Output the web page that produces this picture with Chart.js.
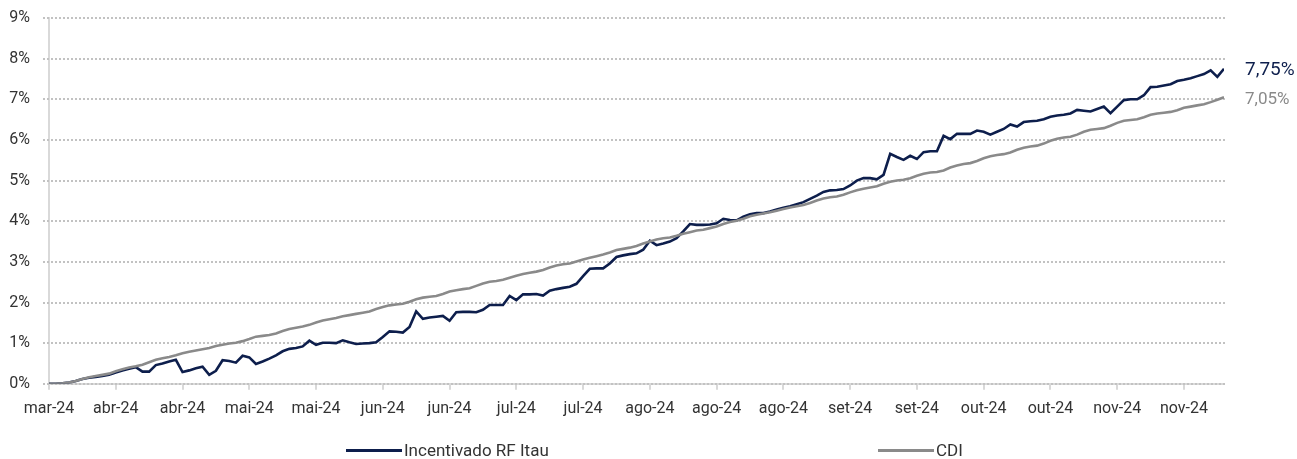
<!DOCTYPE html>
<html>
<head>
<meta charset="utf-8">
<script src="https://cdn.jsdelivr.net/npm/chart.js@4.4.1/dist/chart.umd.min.js"></script>
<style>
  html, body { margin: 0; padding: 0; background: #ffffff; }
  #wrap { position: relative; width: 1297px; height: 459px; }
  #legend { position: absolute; left: 0; top: 440px; width: 1297px; height: 20px; font-family: Roboto, sans-serif; font-size: 17px; color: #333333; }
  .lg-item { position: absolute; top: 0; display: flex; align-items: center; height: 20px; white-space: nowrap; }
  .lg-line { width: 56px; height: 3px; margin-right: 2px; }
</style>
</head>
<body>
<div id="wrap">
  <canvas id="c" width="1297" height="459"></canvas>
  <div id="legend"></div>
</div>
<script>
// ---- data ----
const tickLabels = ['mar-24','abr-24','abr-24','mai-24','mai-24','jun-24','jun-24','jul-24','jul-24',
  'ago-24','ago-24','ago-24','set-24','set-24','out-24','out-24','nov-24','nov-24'];
const labelEvery = 10; // business days between axis labels

const seriesNames = ['Incentivado RF Itau', 'CDI'];

const incentivado = [
  0.00,0.00,0.01,0.03,0.07,0.12,0.15,0.17,0.19,0.22,
  0.28,0.33,0.37,0.41,0.30,0.30,0.46,0.50,0.55,0.59,
  0.29,0.33,0.38,0.42,0.22,0.32,0.58,0.56,0.52,0.69,
  0.65,0.49,0.55,0.62,0.70,0.80,0.86,0.88,0.92,1.06,
  0.96,1.01,1.01,1.00,1.07,1.02,0.98,0.99,1.00,1.02,
  1.15,1.29,1.28,1.26,1.40,1.78,1.60,1.63,1.65,1.67,
  1.55,1.76,1.77,1.77,1.76,1.82,1.94,1.94,1.94,2.16,
  2.06,2.20,2.20,2.21,2.17,2.29,2.33,2.36,2.39,2.46,
  2.65,2.83,2.84,2.84,2.96,3.12,3.16,3.19,3.21,3.30,
  3.52,3.41,3.45,3.50,3.58,3.75,3.93,3.91,3.91,3.92,
  3.95,4.06,4.03,4.02,4.11,4.17,4.20,4.20,4.24,4.29,
  4.33,4.37,4.42,4.47,4.55,4.63,4.72,4.76,4.77,4.79,
  4.88,5.00,5.06,5.06,5.03,5.14,5.66,5.58,5.51,5.61,
  5.53,5.70,5.72,5.72,6.10,6.02,6.15,6.15,6.15,6.23,
  6.20,6.13,6.20,6.27,6.38,6.33,6.44,6.46,6.47,6.51,
  6.57,6.60,6.62,6.65,6.74,6.72,6.70,6.76,6.82,6.66,
  6.82,6.98,7.00,7.00,7.10,7.30,7.31,7.34,7.37,7.45,
  7.48,7.52,7.57,7.62,7.71,7.55,7.75
];

const cdi = [
  0.00,0.00,0.01,0.03,0.07,0.12,0.16,0.19,0.22,0.25,
  0.31,0.36,0.40,0.43,0.47,0.53,0.59,0.63,0.66,0.70,
  0.75,0.79,0.82,0.85,0.88,0.93,0.96,0.99,1.01,1.05,
  1.10,1.16,1.18,1.20,1.24,1.30,1.35,1.38,1.41,1.45,
  1.51,1.56,1.59,1.62,1.66,1.69,1.72,1.75,1.78,1.84,
  1.89,1.93,1.95,1.97,2.02,2.08,2.12,2.14,2.16,2.21,
  2.27,2.30,2.33,2.35,2.41,2.47,2.51,2.53,2.56,2.61,
  2.66,2.70,2.73,2.76,2.80,2.86,2.91,2.94,2.96,3.01,
  3.06,3.10,3.14,3.18,3.23,3.29,3.32,3.35,3.39,3.45,
  3.50,3.55,3.58,3.60,3.64,3.69,3.73,3.77,3.79,3.83,
  3.87,3.93,3.98,4.01,4.06,4.12,4.16,4.19,4.22,4.26,
  4.30,4.34,4.37,4.40,4.45,4.51,4.56,4.59,4.61,4.65,
  4.71,4.76,4.80,4.83,4.86,4.92,4.97,5.00,5.02,5.06,
  5.12,5.17,5.20,5.21,5.25,5.32,5.37,5.41,5.43,5.48,
  5.55,5.60,5.63,5.65,5.69,5.76,5.81,5.84,5.86,5.91,
  5.98,6.03,6.06,6.08,6.13,6.20,6.25,6.27,6.29,6.35,
  6.42,6.47,6.49,6.51,6.56,6.62,6.65,6.67,6.69,6.73,
  6.79,6.82,6.85,6.88,6.93,6.99,7.05
];

const yTicks = [0,1,2,3,4,5,6,7,8,9];

// ---- chart ----
const NAVY = '#0d1e4c';
const GREY = '#8a8a8a';
const GRID = '#c2c2c2';
const toPts = arr => arr.map((v, i) => ({ x: i, y: v }));

Chart.defaults.font.family = 'Roboto, sans-serif';

// dotted horizontal guide lines (crisp 2px dots) behind the series, one per y tick of the library's scale
const dottedGrid = {
  id: 'dottedGrid',
  beforeDatasetsDraw(chart) {
    const { ctx, chartArea, scales: { y } } = chart;
    ctx.save();
    ctx.fillStyle = GRID;
    const x0 = Math.round(chartArea.left) - 6;
    const x1 = Math.round(chartArea.right);
    y.ticks.forEach(t => {
      const py = Math.round(y.getPixelForValue(t.value));
      for (let x = x0; x < x1; x += 4) {
        ctx.fillRect(x, py - 1, 2, 2);
      }
    });
    ctx.restore();
  }
};

const endLabels = {
  id: 'endLabels',
  afterDatasetsDraw(chart) {
    const ctx = chart.ctx;
    chart.data.datasets.forEach((ds, di) => {
      const meta = chart.getDatasetMeta(di);
      const pt = meta.data[meta.data.length - 1];
      const v = ds.data[ds.data.length - 1].y;
      ctx.save();
      ctx.font = ds.endFont;
      ctx.fillStyle = ds.borderColor;
      ctx.textAlign = 'left';
      ctx.textBaseline = 'middle';
      ctx.fillText(v.toFixed(2).replace('.', ',') + '%', pt.x + 21, pt.y + ds.endDy);
      ctx.restore();
    });
  }
};

const chart = new Chart(document.getElementById('c'), {
  type: 'line',
  data: {
    datasets: [
      { label: seriesNames[0], data: toPts(incentivado), borderColor: NAVY, backgroundColor: NAVY,
        borderWidth: 2.6, pointRadius: 0, tension: 0, order: 1, endFont: '19px Roboto, sans-serif', endDy: 1.5 },
      { label: seriesNames[1], data: toPts(cdi), borderColor: GREY, backgroundColor: GREY,
        borderWidth: 2.6, pointRadius: 0, tension: 0, order: 0, endFont: '17px Roboto, sans-serif', endDy: 2 }
    ]
  },
  options: {
    responsive: false,
    animation: false,
    layout: { padding: { left: 0, right: 73, top: 18, bottom: 30 } },
    plugins: { legend: { display: false }, tooltip: { enabled: false } },
    scales: {
      x: {
        type: 'linear',
        min: 0,
        max: incentivado.length - 1,
        grid: { drawOnChartArea: false, drawTicks: true, tickLength: 6, color: '#d9d9d9', lineWidth: 2 },
        border: { display: true, color: '#d9d9d9', width: 2 },
        ticks: {
          stepSize: labelEvery,
          includeBounds: false,
          autoSkip: false,
          maxRotation: 0,
          padding: 10,
          color: '#333333',
          font: { size: 16 },
          callback: v => tickLabels[Math.round(v / labelEvery)] ?? ''
        }
      },
      y: {
        min: yTicks[0],
        max: yTicks[yTicks.length - 1],
        afterFit: s => { s.width = 49; s.paddingTop = 0; s.paddingBottom = 0; },
        grid: { display: false, drawOnChartArea: false, drawTicks: false },
        border: { display: true, color: '#d9d9d9', width: 2 },
        ticks: {
          stepSize: 1,
          padding: 19,
          color: '#333333',
          font: { size: 16 },
          callback: v => v + '%'
        }
      }
    }
  },
  plugins: [dottedGrid, endLabels]
});

// ---- HTML legend from datasets ----
const legendLefts = [346, 878];
const lg = document.getElementById('legend');
chart.data.datasets.forEach((ds, i) => {
  const item = document.createElement('div');
  item.className = 'lg-item';
  item.style.left = legendLefts[i] + 'px';
  const line = document.createElement('span');
  line.className = 'lg-line';
  line.style.background = ds.borderColor;
  const txt = document.createElement('span');
  txt.textContent = ds.label;
  item.appendChild(line);
  item.appendChild(txt);
  lg.appendChild(item);
});
</script>
</body>
</html>
